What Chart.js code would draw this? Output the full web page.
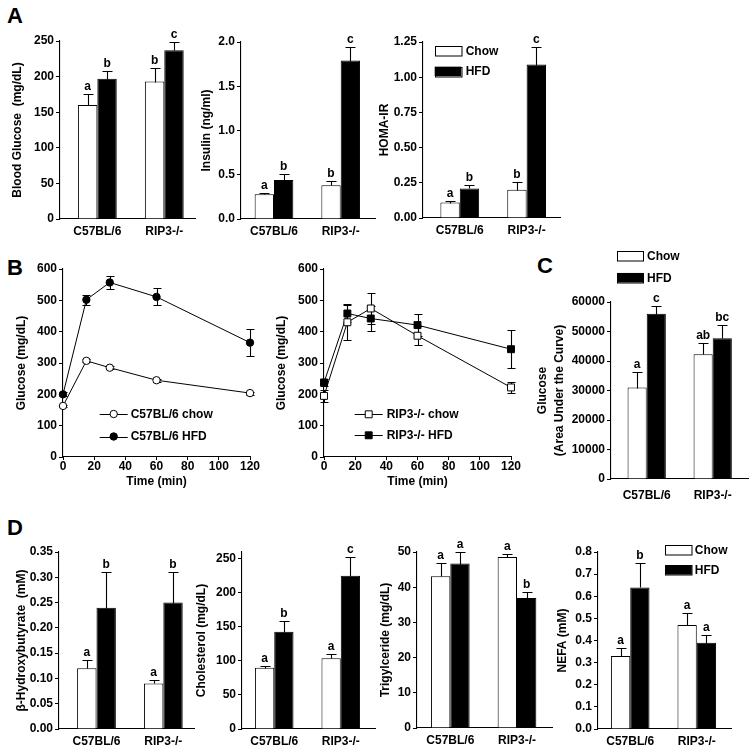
<!DOCTYPE html>
<html><head><meta charset="utf-8">
<script src="https://cdn.jsdelivr.net/npm/chart.js@4.4.1/dist/chart.umd.min.js"></script>
<style>
body{margin:0;background:#fff;width:754px;height:753px;position:relative;overflow:hidden;font-family:"Liberation Sans",Arial,Helvetica,sans-serif;}
canvas{position:absolute;}
.pl{position:absolute;font-weight:bold;font-size:22px;line-height:22px;color:#000;}
</style></head><body>
<div class="pl" style="left:7px;top:5px">A</div>
<div class="pl" style="left:7px;top:257px">B</div>
<div class="pl" style="left:537px;top:255px">C</div>
<div class="pl" style="left:7px;top:517px">D</div>
<script>
// ---------- data ----------
const groups = ['C57BL/6', 'RIP3-/-'];
const diets = ['Chow', 'HFD'];

const bgTicks = [0, 50, 100, 150, 200, 250];
const bgChow = [160, 193], bgChowSem = [16, 19];
const bgHfd = [197, 237], bgHfdSem = [11, 12];
const bgChowLet = ['a', 'b'], bgHfdLet = ['b', 'c'];

const insTicks = [0, 0.5, 1.0, 1.5, 2.0];
const insChow = [0.28, 0.38], insChowSem = [0.015, 0.055];
const insHfd = [0.44, 1.79], insHfdSem = [0.065, 0.15];
const insChowLet = ['a', 'b'], insHfdLet = ['b', 'c'];

const homaTicks = [0, 0.25, 0.5, 0.75, 1.0, 1.25];
const homaChow = [0.11, 0.20], homaChowSem = [0.013, 0.055];
const homaHfd = [0.21, 1.09], homaHfdSem = [0.027, 0.125];
const homaChowLet = ['a', 'b'], homaHfdLet = ['b', 'c'];

const gttTimes = [0, 15, 30, 60, 120];
const gttXTicks = [0, 20, 40, 60, 80, 100, 120];
const gttYTicks = [0, 100, 200, 300, 400, 500, 600];
const gttSeries = ['C57BL/6 chow', 'C57BL/6 HFD', 'RIP3-/- chow', 'RIP3-/- HFD'];
const c57ChowGtt = [163, 307, 285, 245, 204], c57ChowGttSem = [4, 5, 5, 5, 5];
const c57HfdGtt = [200, 502, 557, 511, 365], c57HfdGttSem = [6, 16, 22, 27, 44];
const rip3ChowGtt = [195, 430, 474, 387, 222], rip3ChowGttSem = [20, 58, 48, 31, 17];
const rip3HfdGtt = [238, 458, 442, 421, 344], rip3HfdGttSem = [12, 28, 40, 35, 60];

const aucTicks = [0, 10000, 20000, 30000, 40000, 50000, 60000];
const aucChow = [31000, 42300], aucChowSem = [5300, 3800];
const aucHfd = [56000, 47700], aucHfdSem = [2500, 4400];
const aucChowLet = ['a', 'ab'], aucHfdLet = ['c', 'bc'];

const bhbTicks = [0, 0.05, 0.10, 0.15, 0.20, 0.25, 0.30, 0.35];
const bhbChow = [0.12, 0.09], bhbChowSem = [0.016, 0.006];
const bhbHfd = [0.24, 0.25], bhbHfdSem = [0.07, 0.06];
const bhbChowLet = ['a', 'a'], bhbHfdLet = ['b', 'b'];

const cholTicks = [0, 50, 100, 150, 200, 250];
const cholChow = [90, 104], cholChowSem = [3, 6.5];
const cholHfd = [143, 225], cholHfdSem = [16, 27];
const cholChowLet = ['a', 'a'], cholHfdLet = ['b', 'c'];

const tgTicks = [0, 10, 20, 30, 40, 50];
const tgChow = [43.1, 48.6], tgChowSem = [3.8, 0.9];
const tgHfd = [46.7, 36.9], tgHfdSem = [3.3, 1.7];
const tgChowLet = ['a', 'a'], tgHfdLet = ['a', 'b'];

const nefaTicks = [0, 0.1, 0.2, 0.3, 0.4, 0.5, 0.6, 0.7, 0.8];
const nefaChow = [0.33, 0.47], nefaChowSem = [0.035, 0.055];
const nefaHfd = [0.64, 0.39], nefaHfdSem = [0.112, 0.036];
const nefaChowLet = ['a', 'a'], nefaHfdLet = ['b', 'a'];

// ---------- rendering ----------
const FF = '"Liberation Sans", Arial, Helvetica, sans-serif';
Chart.defaults.font.family = FF;
Chart.defaults.font.size = 12;
Chart.defaults.font.weight = 'bold';
Chart.defaults.color = '#000';

function drawErr(chart, o) {
  const ctx = chart.ctx, ys = chart.scales.y;
  ctx.save(); ctx.strokeStyle = '#000'; ctx.lineWidth = 1.1;
  chart.data.datasets.forEach((ds, di) => {
    const meta = chart.getDatasetMeta(di);
    const sem = o.errs[di];
    meta.data.forEach((el, i) => {
      const v = ds.data[i].y, e = sem[i];
      const x = Math.round(el.x) + 0.5;
      const yt = Math.round(ys.getPixelForValue(v + e)) + 0.5;
      const yb = Math.round(ys.getPixelForValue(o.mode === 'up' ? v : v - e)) + 0.5;
      ctx.beginPath();
      ctx.moveTo(x, yb); ctx.lineTo(x, yt);
      ctx.moveTo(x - o.cap / 2, yt); ctx.lineTo(x + o.cap / 2, yt);
      if (o.mode === 'both') { ctx.moveTo(x - o.cap / 2, yb); ctx.lineTo(x + o.cap / 2, yb); }
      ctx.stroke();
    });
  });
  ctx.restore();
}
function drawLetters(chart, o) {
  if (!o.lets) return;
  const ctx = chart.ctx, ys = chart.scales.y;
  ctx.save(); ctx.fillStyle = '#000'; ctx.font = 'bold 12px ' + FF;
  ctx.textAlign = 'center'; ctx.textBaseline = 'alphabetic';
  chart.data.datasets.forEach((ds, di) => {
    const meta = chart.getDatasetMeta(di);
    meta.data.forEach((el, i) => {
      const v = ds.data[i].y, e = o.errs[di][i];
      ctx.fillText(o.lets[di][i], el.x, ys.getPixelForValue(v + e) - 4);
    });
  });
  ctx.restore();
}
function drawLegend(chart, o) {
  const L = o.legend; if (!L) return;
  const ctx = chart.ctx;
  ctx.save();
  chart.data.datasets.forEach((ds, di) => {
    const yc = L.y + di * L.gap - o.oy;
    const x0 = L.x - o.ox;
    ctx.strokeStyle = '#000'; ctx.lineWidth = 1;
    if (L.type === 'box') {
      ctx.fillStyle = ds.backgroundColor;
      ctx.fillRect(x0, yc - L.h / 2, L.w, L.h);
      ctx.strokeRect(Math.round(x0) + 0.5, Math.round(yc - L.h / 2) + 0.5, L.w, L.h);
    } else {
      ctx.beginPath(); ctx.moveTo(x0, Math.round(yc) + 0.5); ctx.lineTo(x0 + L.w, Math.round(yc) + 0.5); ctx.stroke();
      const mx = x0 + L.w / 2;
      ctx.fillStyle = ds.pointBackgroundColor;
      ctx.beginPath();
      if (ds.pointStyle === 'rect') { const s = ds.pointRadius * Math.SQRT1_2; ctx.rect(mx - s, yc - s, 2 * s, 2 * s); }
      else ctx.arc(mx, yc, ds.pointRadius, 0, Math.PI * 2);
      ctx.fill(); ctx.stroke();
    }
    ctx.fillStyle = '#000'; ctx.font = 'bold 12px ' + FF;
    ctx.textAlign = 'left'; ctx.textBaseline = 'middle';
    ctx.fillText(ds.label, L.tx - o.ox, yc + 0.5);
  });
  ctx.restore();
}
const deco = {
  id: 'deco',
  beforeDatasetsDraw(chart, a, o) { if (o.mode === 'both') drawErr(chart, o); },
  afterDatasetsDraw(chart, a, o) {
    if (o.mode === 'up') drawErr(chart, o);
    drawLetters(chart, o); drawLegend(chart, o);
  }
};

function makeCanvas(box) {
  const c = document.createElement('canvas');
  c.width = Math.round(box.w); c.height = Math.round(box.h);
  c.style.left = box.x + 'px'; c.style.top = box.y + 'px';
  document.body.appendChild(c);
  return c;
}
function yScale(p, box, ml) {
  const lh = p.titleLH || 1.2;
  return {
    type: 'linear', min: 0, max: p.ymax,
    afterBuildTicks: s => { s.ticks = p.ticks.map(v => ({ value: v })); },
    afterFit: s => { s.width = ml; },
    ticks: { callback: v => Number(v).toFixed(p.dec), padding: 2, font: { size: 12, weight: 'bold' }, color: '#000' },
    grid: { display: true, drawOnChartArea: false, drawTicks: true, tickLength: 4, color: '#000', lineWidth: 1 },
    border: { display: true, color: '#000', width: 1.1 },
    title: { display: true, text: p.title, color: '#000', font: { size: 12, weight: 'bold', lineHeight: lh },
      padding: { top: p.tx - box.x - 6 * lh, bottom: 0 } }
  };
}

function barChart(p) {
  const ml = p.ml || 62, mt = 60, mr = 14, mb = 32;
  const box = { x: p.l - ml, y: p.t - mt, w: p.r - p.l + ml + mr, h: p.b - p.t + mt + mb };
  const cv = makeCanvas(box);
  const xmin = 1 - (p.c1 - p.l) / p.sp, xmax = 2 + (p.r - p.c1 - p.sp) / p.sp;
  const mk = (vals, fill, lab) => ({
    label: lab, data: groups.map((g, i) => ({ x: i + 1, y: vals[i] })),
    backgroundColor: fill, borderColor: '#000', borderWidth: 1,
    categoryPercentage: 0.58, barPercentage: 1
  });
  new Chart(cv, {
    type: 'bar',
    data: { datasets: [mk(p.chow, '#ffffff', diets[0]), mk(p.hfd, '#000000', diets[1])] },
    options: {
      responsive: false, animation: false, devicePixelRatio: 1, events: [],
      layout: { padding: { left: 0, top: mt, right: mr, bottom: 0 } },
      scales: {
        x: {
          type: 'linear', min: xmin, max: xmax, offset: false,
          afterBuildTicks: s => { s.ticks = groups.map((g, i) => ({ value: i + 1 })); },
          afterFit: s => { s.height = mb; },
          ticks: { callback: (v, i) => groups[i], padding: p.xpad, autoSkip: false, maxRotation: 0, font: { size: 12, weight: 'bold' }, color: '#000' },
          grid: { display: false, drawTicks: false, tickLength: 0, offset: false },
          border: { display: true, color: '#000', width: 1.1 }
        },
        y: yScale(p, box, ml)
      },
      plugins: {
        legend: { display: false }, tooltip: { enabled: false },
        deco: { mode: 'up', cap: 10, errs: [p.chowSem, p.hfdSem], lets: [p.chowLet, p.hfdLet], ox: box.x, oy: box.y, legend: p.legend || null }
      }
    },
    plugins: [deco]
  });
}

function lineChart(p) {
  const ml = 62, mt = 60, mr = 16, mb = 36;
  const box = { x: p.l - ml, y: p.t - mt, w: p.r - p.l + ml + mr, h: p.b - p.t + mt + mb };
  const cv = makeCanvas(box);
  const mk = (vals, lab, fill) => ({
    label: lab, data: gttTimes.map((t, i) => ({ x: t, y: vals[i] })),
    borderColor: '#000', borderWidth: 1, backgroundColor: fill,
    pointStyle: p.style, pointRadius: p.pr, pointBackgroundColor: fill, pointBorderColor: '#000', pointBorderWidth: 1,
    tension: 0, clip: false
  });
  new Chart(cv, {
    type: 'line',
    data: { datasets: [mk(p.s1, p.n1, '#ffffff'), mk(p.s2, p.n2, '#000000')] },
    options: {
      responsive: false, animation: false, devicePixelRatio: 1, events: [],
      layout: { padding: { left: 0, top: mt, right: mr, bottom: 0 } },
      scales: {
        x: {
          type: 'linear', min: 0, max: 120,
          afterBuildTicks: s => { s.ticks = gttXTicks.map(v => ({ value: v })); },
          afterFit: s => { s.height = mb; },
          ticks: { padding: -1, autoSkip: false, maxRotation: 0, font: { size: 12, weight: 'bold' }, color: '#000' },
          grid: { display: true, drawOnChartArea: false, drawTicks: true, tickLength: 3, color: '#000', lineWidth: 1 },
          border: { display: true, color: '#000', width: 1.1 },
          title: { display: true, text: 'Time (min)', color: '#000', font: { size: 12, weight: 'bold' },
            padding: { top: 0, bottom: (box.y + box.h) - p.xtY - 7.2 } }
        },
        y: yScale(p, box, ml)
      },
      plugins: {
        legend: { display: false }, tooltip: { enabled: false },
        deco: { mode: 'both', cap: 8, errs: [p.e1, p.e2], lets: null, ox: box.x, oy: box.y, legend: p.legend }
      }
    },
    plugins: [deco]
  });
}

// Row A
barChart({ l: 59.5, t: 40.7, r: 194, b: 218.3, c1: 96.7, sp: 66.7, xpad: 5, ymax: 250, ticks: bgTicks, dec: 0,
  title: 'Blood Glucose  (mg/dL)', tx: 17, chow: bgChow, chowSem: bgChowSem, hfd: bgHfd, hfdSem: bgHfdSem, chowLet: bgChowLet, hfdLet: bgHfdLet });
barChart({ l: 241, t: 41.7, r: 375, b: 218.7, c1: 274, sp: 66.7, xpad: 5, ymax: 2.0, ticks: insTicks, dec: 1,
  title: 'Insulin (ng/ml)', tx: 207, chow: insChow, chowSem: insChowSem, hfd: insHfd, hfdSem: insHfdSem, chowLet: insChowLet, hfdLet: insHfdLet });
barChart({ l: 423.3, t: 42.3, r: 560, b: 218.7, c1: 460, sp: 66.7, xpad: 5, ymax: 1.25, ticks: homaTicks, dec: 2,
  title: 'HOMA-IR', tx: 385, chow: homaChow, chowSem: homaChowSem, hfd: homaHfd, hfdSem: homaHfdSem, chowLet: homaChowLet, hfdLet: homaHfdLet,
  legend: { type: 'box', x: 435, y: 51.3, gap: 20.4, w: 26.5, h: 9.5, tx: 466 } });

// Row B
lineChart({ l: 63.3, t: 269, r: 250.7, b: 456.7, ymax: 600, ticks: gttYTicks, dec: 0, title: 'Glucose (mg/dL)', tx: 22, xtY: 481.7,
  s1: c57ChowGtt, e1: c57ChowGttSem, n1: gttSeries[0], s2: c57HfdGtt, e2: c57HfdGttSem, n2: gttSeries[1], style: 'circle', pr: 3.7,
  legend: { type: 'line', x: 100, y: 414, gap: 22.5, w: 28, tx: 131 } });
lineChart({ l: 324.3, t: 269, r: 511.5, b: 456.7, ymax: 600, ticks: gttYTicks, dec: 0, title: 'Glucose (mg/dL)', tx: 281.7, xtY: 481.7,
  s1: rip3ChowGtt, e1: rip3ChowGttSem, n1: gttSeries[2], s2: rip3HfdGtt, e2: rip3HfdGttSem, n2: gttSeries[3], style: 'rect', pr: 4.9,
  legend: { type: 'line', x: 355, y: 414.3, gap: 21, w: 28, tx: 387 } });

// C
barChart({ l: 611, t: 302.3, r: 748, b: 479.3, c1: 646.7, sp: 66, xpad: 9, ymax: 60000, ticks: aucTicks, dec: 0, ml: 80,
  title: ['Glucose', '(Area Under the Curve)'], titleLH: 1.36, tx: 543,
  chow: aucChow, chowSem: aucChowSem, hfd: aucHfd, hfdSem: aucHfdSem, chowLet: aucChowLet, hfdLet: aucHfdLet,
  legend: { type: 'box', x: 617, y: 256.5, gap: 21.5, w: 26, h: 9.5, tx: 647 } });

// Row D
barChart({ l: 59.3, t: 551.7, r: 194, b: 728.3, c1: 96.7, sp: 66.7, xpad: 5, ymax: 0.35, ticks: bhbTicks, dec: 2,
  title: 'β-Hydroxybutyrate  (mM)', tx: 22, chow: bhbChow, chowSem: bhbChowSem, hfd: bhbHfd, hfdSem: bhbHfdSem, chowLet: bhbChowLet, hfdLet: bhbHfdLet });
barChart({ l: 241.7, t: 551.7, r: 375, b: 728.3, c1: 274, sp: 66.7, xpad: 5, ymax: 260, ticks: cholTicks, dec: 0,
  title: 'Cholesterol (mg/dL)', tx: 201.7, chow: cholChow, chowSem: cholChowSem, hfd: cholHfd, hfdSem: cholHfdSem, chowLet: cholChowLet, hfdLet: cholHfdLet });
barChart({ l: 416.7, t: 552.3, r: 551.7, b: 728.3, c1: 450, sp: 66.7, xpad: 5, ymax: 50, ticks: tgTicks, dec: 0,
  title: 'Trigylceride (mg/dL)', tx: 385, chow: tgChow, chowSem: tgChowSem, hfd: tgHfd, hfdSem: tgHfdSem, chowLet: tgChowLet, hfdLet: tgHfdLet });
barChart({ l: 597.7, t: 551.7, r: 731, b: 728.3, c1: 630, sp: 66.7, xpad: 5, ymax: 0.8, ticks: nefaTicks, dec: 1,
  title: 'NEFA (mM)', tx: 562, chow: nefaChow, chowSem: nefaChowSem, hfd: nefaHfd, hfdSem: nefaHfdSem, chowLet: nefaChowLet, hfdLet: nefaHfdLet,
  legend: { type: 'box', x: 665, y: 549.5, gap: 20, w: 26.5, h: 9.5, tx: 694.5 } });
</script>
</body></html>
